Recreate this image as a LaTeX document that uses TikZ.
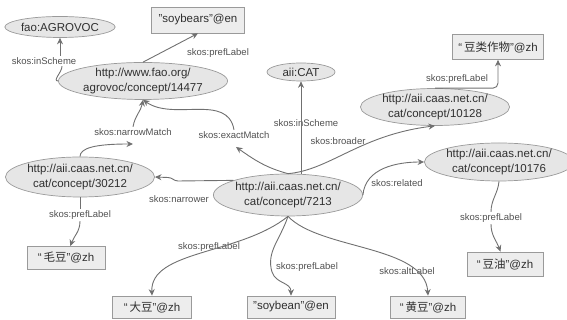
\documentclass[tikz,border=0pt]{standalone}
\usepackage{fontspec}
\setmainfont{Liberation Sans}
\newfontfamily\cjk{Noto Sans CJK SC}
\usetikzlibrary{shapes.geometric,arrows.meta}
\definecolor{nodefill}{HTML}{E6E6E6}
\definecolor{nodeline}{HTML}{9A9A9A}
\definecolor{edgecol}{HTML}{707070}
\definecolor{txt}{HTML}{303030}
\definecolor{lbltxt}{HTML}{505050}
\tikzset{
  concept/.style={ellipse, draw=nodeline, fill=nodefill, line width=0.7pt, inner sep=0pt,
    align=center, text=txt, font=\fontsize{11.5}{14.5}\selectfont},
  lit/.style={rectangle, draw=nodeline, fill=nodefill!70, line width=0.7pt, inner sep=0pt,
    text=txt, font=\fontsize{11.5}{14}\selectfont},
  elabel/.style={inner sep=1.5pt, text=lbltxt, font=\fontsize{9.5}{11}\selectfont},
  conn/.style={draw=edgecol, line width=0.9pt},
  arr/.style={conn, -{Stealth[length=6.5pt,width=6pt]}},
}
\begin{document}
\begin{tikzpicture}[x=1pt,y=1pt]
\useasboundingbox (0,0) rectangle (567,320);
% nodes
\node[concept, minimum width=110pt, minimum height=21pt] (agrovoc) at (60,293) {fao:AGROVOC};
\node[lit, minimum width=93pt, minimum height=26pt] (soybears) at (198,300) {"soybears"@en};
\node[concept, minimum width=153pt, minimum height=37pt] (fao) at (143,239) {http://www.fao.org/\\agrovoc/concept/14477};
\node[concept, minimum width=68pt, minimum height=18pt] (aiicat) at (301,248) {aii:CAT};
\node[lit, minimum width=91pt, minimum height=25pt] (zhwu) at (498,273) {“\,{\cjk 豆类作物}”@zh};
\node[concept, minimum width=143pt, minimum height=37pt] (c10128) at (435,213) {http://aii.caas.net.cn/\\cat/concept/10128};
\node[concept, minimum width=134pt, minimum height=38pt] (c10176) at (499,158) {http://aii.caas.net.cn/\\cat/concept/10176};
\node[concept, minimum width=140pt, minimum height=42pt] (c7213) at (288,125) {http://aii.caas.net.cn/\\cat/concept/7213};
\node[concept, minimum width=137pt, minimum height=40pt] (c30212) at (80,143) {http://aii.caas.net.cn/\\cat/concept/30212};
\node[lit, minimum width=78pt, minimum height=23pt] (maodou) at (66,62) {“\,{\cjk 毛豆}”@zh};
\node[lit, minimum width=79pt, minimum height=22pt] (dadou) at (152,13) {“\,{\cjk 大豆}”@zh};
\node[lit, minimum width=88pt, minimum height=22pt] (soybean) at (291,13) {"soybean"@en};
\node[lit, minimum width=75pt, minimum height=22pt] (huangdou) at (428,13) {“\,{\cjk 黄豆}”@zh};
\node[lit, minimum width=76pt, minimum height=24pt] (douyou) at (505,56) {“\,{\cjk 豆油}”@zh};
% edge labels
\node[elabel] (lA) at (44,259) {skos:inScheme};
\node[elabel] (lB) at (218,267) {skos:prefLabel};
\node[elabel] (lC) at (133,188) {skos:narrowMatch};
\node[elabel] (lD) at (234,185) {skos:exactMatch};
\node[elabel] (lE) at (306,197) {skos:inScheme};
\node[elabel] (lF) at (338,179) {skos:broader};
\node[elabel] (lG) at (397,137) {skos:related};
\node[elabel] (lH) at (457,241) {skos:prefLabel};
\node[elabel] (lI) at (491,102) {skos:prefLabel};
\node[elabel] (lJ) at (80,105) {skos:prefLabel};
\node[elabel] (lK) at (179,121) {skos:narrower};
\node[elabel] (lL) at (209,73) {skos:prefLabel};
\node[elabel] (lM) at (307,53) {skos:prefLabel};
\node[elabel] (lN) at (407,49) {skos:altLabel};
\coordinate (cC) at (133,176);
\coordinate (cD) at (236,173);
% connectors
\draw[conn] (fao.west) to[out=180,in=-90] ([xshift=18pt]lA.south);
\draw[arr] ([xshift=16pt]lA.north) -- (agrovoc.south);
\draw[arr] (fao.north) -- (soybears.south);
\draw[arr] (c30212.north) .. controls (80,172) and (95,176) .. (cC);
\draw[arr] (lC.north) to[out=80,in=-100] (fao.south);
\draw[arr] (c7213.north) to[out=165,in=-35] (cD);
\draw[arr] (lD.north) to[out=100,in=-35] (fao.south);
\draw[arr] (aiicat.south |- c7213.north) -- (aiicat.south);
\draw[arr] (c7213.north) .. controls (330,150) and (360,185) .. (c10128.south);
\draw[arr] (c7213.east) to[out=85,in=180] (c10176.west);
\draw[arr, rounded corners=5pt] (c10128.north) -| (zhwu.south);
\draw[conn] (c10176.south) to[out=-95,in=90] (lI);
\draw[arr] (lI) to[out=-90,in=110] (douyou);
\draw[conn] (c30212.south) -- (lJ);
\draw[arr] (lJ) to[out=-90,in=70] (maodou);
\draw[arr] (c7213.165) -- (178,139) to[out=180,in=0] (168,142.5) -- (c30212.east);
\draw[arr] (c7213.south) .. controls (240,65) and (150,70) .. (dadou.north);
\draw[arr] (c7213.south) .. controls (280,80) and (266,68) .. (272,48) .. controls (276,36) and (291,38) .. (soybean.north);
\draw[arr] (c7213.south) .. controls (320,70) and (425,75) .. (huangdou.north);
\end{tikzpicture}
\end{document}
